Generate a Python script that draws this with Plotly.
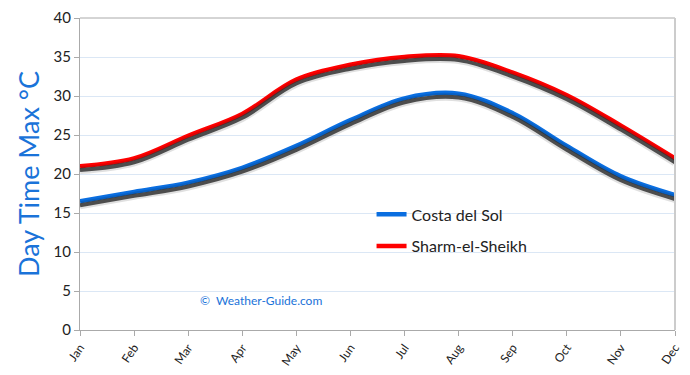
import plotly.graph_objects as go

months = ["Jan", "Feb", "Mar", "Apr", "May", "Jun", "Jul", "Aug", "Sep", "Oct", "Nov", "Dec"]
costa = [16.5, 17.7, 18.9, 20.8, 23.6, 26.9, 29.7, 30.3, 27.8, 23.6, 19.7, 17.3]
sharm = [21.0, 22.0, 24.9, 27.7, 32.1, 34.0, 35.0, 35.1, 33.0, 30.1, 26.2, 22.0]
series = [("Costa del Sol", costa, "#0a6ee0"), ("Sharm-el-Sheikh", sharm, "#ff0000")]

FONT = "Lato"
fig = go.Figure()

# shadows (same data on an overlaid, slightly shifted axis)
for name, vals, col in series:
    fig.add_trace(go.Scatter(x=months, y=vals, yaxis="y2", mode="lines",
                             line=dict(color="rgba(0,0,0,0.12)", width=8, shape="spline", smoothing=1.0),
                             showlegend=False, hoverinfo="skip"))
    fig.add_trace(go.Scatter(x=months, y=vals, yaxis="y2", mode="lines",
                             line=dict(color="rgba(50,50,50,0.85)", width=4, shape="spline", smoothing=1.0),
                             showlegend=False, hoverinfo="skip"))

for i, (name, vals, col) in enumerate(series):
    fig.add_trace(go.Scatter(x=months, y=vals, mode="lines", name=name, legendgroup=f"g{i}",
                             line=dict(color=col, width=4.5, shape="spline", smoothing=1.0)))

fig.update_layout(
    width=690, height=375,
    margin=dict(l=72, r=23, t=10, b=53),
    paper_bgcolor="white", plot_bgcolor="white",
    font=dict(family=FONT, color="#222"),
    xaxis=dict(range=[0, 11], showgrid=False, showline=True, linecolor="#aaaaaa", linewidth=1,
               ticks="outside", ticklen=5, tickcolor="#aaaaaa", tickangle=-55, automargin=False,
               tickfont=dict(size=12, color="#222"), mirror=False),
    yaxis=dict(range=[0, 40], dtick=5, showgrid=True, gridcolor="#dbe7f5", gridwidth=1,
               showline=True, linecolor="#aaaaaa", ticks="outside", ticklen=5, tickcolor="#aaaaaa",
               tickfont=dict(size=15, color="#222"), zeroline=False, automargin=False,
               title=dict(text="Day Time Max °C", font=dict(size=27, color="#1a73d9"), standoff=6)),
    yaxis2=dict(range=[0.5, 40.5], overlaying="y", visible=False),
    legend=dict(x=0.49, y=0.425, xanchor="left", yanchor="top", bgcolor="rgba(255,255,255,0)",
                font=dict(size=16, color="#222"), itemwidth=30, tracegroupgap=8),
    shapes=[
        dict(type="line", xref="paper", yref="paper", x0=0, x1=1, y0=1, y1=1, line=dict(color="#aaaaaa", width=1)),
        dict(type="line", xref="paper", yref="paper", x0=1, x1=1, y0=0, y1=1, line=dict(color="#cccccc", width=2)),
    ],
    annotations=[dict(text="©  Weather-Guide.com", xref="paper", yref="paper", x=0.198, y=0.096,
                      xanchor="left", yanchor="middle", showarrow=False,
                      font=dict(size=12, color="#1a73d9", family=FONT))],
)

fig.write_html("out.html")
